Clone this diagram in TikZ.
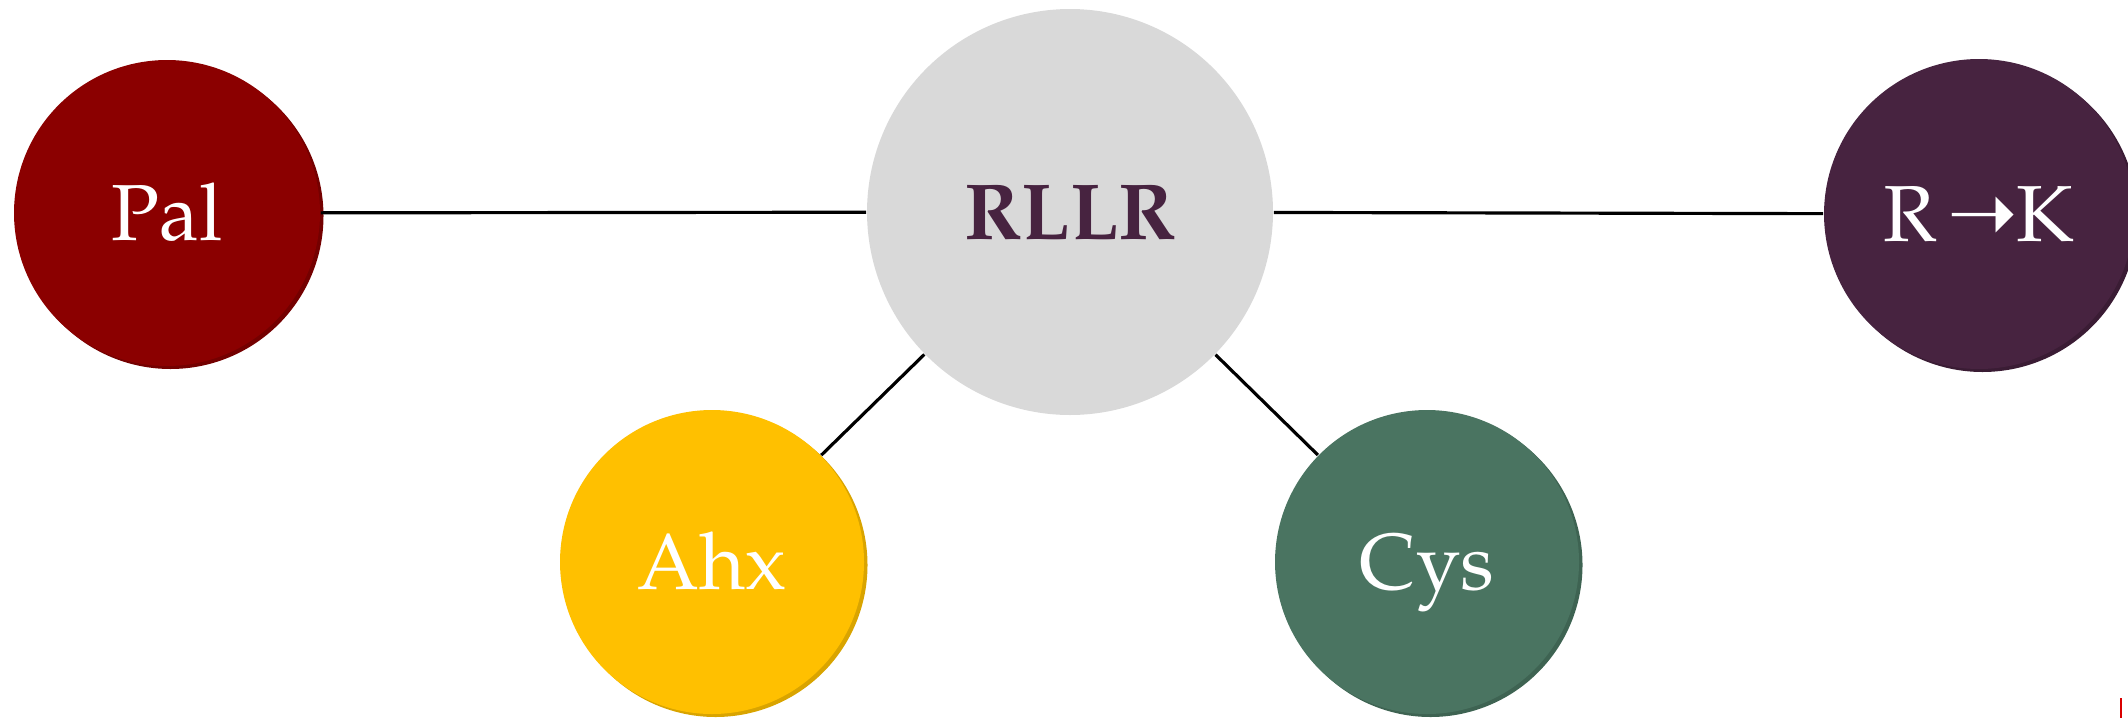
\documentclass[tikz,border=0pt]{standalone}
\usepackage[T1]{fontenc}
\usepackage{fontspec}
\newfontfamily\arrowfont{DejaVu Sans}
\newcommand\palfont{\fontencoding{T1}\fontfamily{ppl}\selectfont}

\definecolor{palred}{HTML}{8B0000}
\definecolor{palshade}{HTML}{740000}
\definecolor{hubgray}{HTML}{D9D9D9}
\definecolor{plum}{HTML}{472340}
\definecolor{plumshade}{HTML}{3A1C34}
\definecolor{amber}{HTML}{FFC000}
\definecolor{ambershade}{HTML}{D9A400}
\definecolor{sage}{HTML}{4A7461}
\definecolor{sageshade}{HTML}{3E6352}

% a finely sampled disk: #1 centre, #2 radius (px), #3 fill colour
\newcommand\drawdisk[3]{%
  \fill[#3, shift={(#1)}] plot[domain=0:360, samples=241] ({#2*cos(\x)}, {#2*sin(\x)}) -- cycle;}
% the same disk, offset to the lower right as a shadow
\newcommand\drawshade[3]{%
  \fill[#3, shift={(#1)}, xshift=0.035cm, yshift=-0.03cm]
    plot[domain=0:360, samples=241] ({#2*cos(\x)}, {#2*sin(\x)}) -- cycle;}

\tikzset{
  bubble/.style={circle, draw=none, inner sep=0pt, text=white,
    font=\palfont\fontsize{22.6}{27}\selectfont,
    text height=15.4pt, text depth=0pt},
  link/.style={draw=black, line width=0.9pt}
}

\begin{document}
\begin{tikzpicture}[x=0.01cm, y=-0.01cm]
  \useasboundingbox (0,0) rectangle (2128,718);

  \coordinate (cRllr) at (1070,212);
  \coordinate (cPal)  at (167,213);
  \coordinate (cRk)   at (1979,214);
  \coordinate (cAhx)  at (712,562);
  \coordinate (cCys)  at (1427,562);

  % shadows, then the disks themselves
  \drawshade{cPal}{153}{palshade}
  \drawshade{cRk}{155}{plumshade}
  \drawshade{cAhx}{152}{ambershade}
  \drawshade{cCys}{152}{sageshade}
  \drawdisk{cRllr}{203}{hubgray}
  \drawdisk{cPal}{153}{palred}
  \drawdisk{cRk}{155}{plum}
  \drawdisk{cAhx}{152}{amber}
  \drawdisk{cCys}{152}{sage}

  % labels
  \node[bubble, minimum size=4.06cm, text=plum,
        font=\palfont\bfseries\fontsize{22.6}{27}\selectfont] (rllr) at (cRllr) {RLLR};
  \node[bubble, minimum size=3.06cm] (pal) at (cPal) {Pal};
  \node[bubble, minimum size=3.10cm] (rk) at (cRk)
        {R\hspace{3pt}{\arrowfont\fontsize{24}{28}\selectfont ➝}\hspace{-0.5pt}K};
  \node[bubble, minimum size=3.04cm] (ahx) at (cAhx) {Ahx};
  \node[bubble, minimum size=3.04cm] (cys) at (cCys) {Cys};

  % connectors from the hub
  \draw[link] (pal) -- (rllr);
  \draw[link] (rllr) -- (rk);
  \draw[link] (rllr) -- (ahx);
  \draw[link] (rllr) -- (cys);

  % small red tick in the lower right corner
  \coordinate (tickTop) at (2121,698);
  \coordinate (tickBot) at (2121,718);
  \draw[color=red!85!black, line width=0.6pt] (tickTop) -- (tickBot);
\end{tikzpicture}
\end{document}
